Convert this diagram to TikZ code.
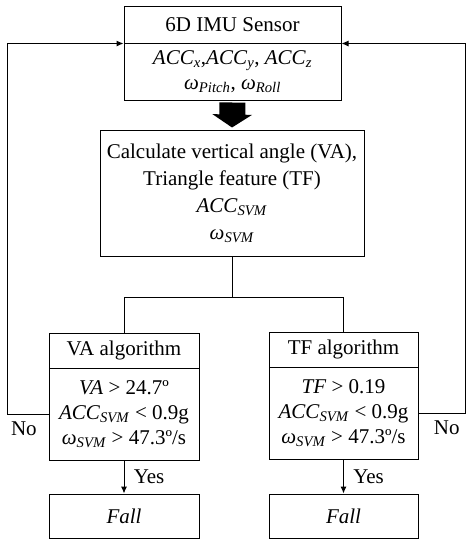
\documentclass[tikz,border=0pt]{standalone}
\usepackage{fontspec}
\setmainfont{Liberation Serif}
\usetikzlibrary{arrows.meta}
\newcommand{\vsub}[2]{\textit{#1}\textsubscript{\textit{#2}}}
\begin{document}
\begin{tikzpicture}[x=1pt,y=-1pt,line width=1pt,
  box/.style={draw,minimum width=#1,inner sep=2pt,align=center,font=\fontsize{21}{25}\selectfont},
  lbl/.style={font=\fontsize{21}{25}\selectfont},
  arr/.style={-{Latex[length=7pt,width=6pt]}}]
\useasboundingbox (0,0) rectangle (475,550);
%sensor
\node[box=217pt,minimum height=37pt] (imuhead) at (232.5,24.5) {6D IMU Sensor};
\node[box=217pt,minimum height=57pt] (imubody) at (232.5,71.5) {\vsub{ACC}{x},\vsub{ACC}{y}, \vsub{ACC}{z}\\\vsub{ω}{Pitch}, \vsub{ω}{Roll}};
%features
\node[box=264pt,minimum height=126pt,font=\fontsize{21}{27}\selectfont] (calc) at (232,193) {Calculate vertical angle (VA),\\Triangle feature (TF)\\\vsub{ACC}{SVM}\\\vsub{ω}{SVM}};
\draw[line width=26pt,-{Triangle[width=39pt,length=13pt]},shorten <=2pt,shorten >=2pt] (imubody.south) -- (calc.north);
%algorithms
\node[box=150pt,minimum height=35pt] (vahead) at (124,350.5) {VA algorithm};
\node[box=150pt,minimum height=92pt] (vabody) at (124,414) {\textit{VA} > 24.7º\\\vsub{ACC}{SVM} < 0.9g\\\vsub{ω}{SVM} > 47.3º/s};
\node[box=149pt,minimum height=35pt] (tfhead) at (343.5,349.5) {TF algorithm};
\node[box=149pt,minimum height=92pt] (tfbody) at (343.5,413) {\textit{TF} > 0.19\\\vsub{ACC}{SVM} < 0.9g\\\vsub{ω}{SVM} > 47.3º/s};
\draw (calc.south) -- ++(0,41) coordinate(split) -| (vahead.north);
\draw (split) -| (tfhead.north);
%decision
\node[box=150pt,minimum height=44pt] (vafall) at (124,516) {\textit{Fall}};
\node[box=149pt,minimum height=44pt] (tffall) at (343.5,516) {\textit{Fall}};
\draw[arr] (vabody.south) -- (vafall.north) node[pos=0.5,right=6pt,lbl]{Yes};
\draw[arr] (tfbody.south) -- (tffall.north) node[pos=0.5,right=6pt,lbl]{Yes};
%loops
\draw[arr] (vabody.west) -- ++(-41,0) node[pos=0.6,below=4pt,lbl]{No} |- (imuhead.south west);
\draw[arr] (tfbody.east) -- ++(47,0) node[pos=0.6,below=4pt,lbl]{No} |- (imuhead.south east);
\end{tikzpicture}
\end{document}
